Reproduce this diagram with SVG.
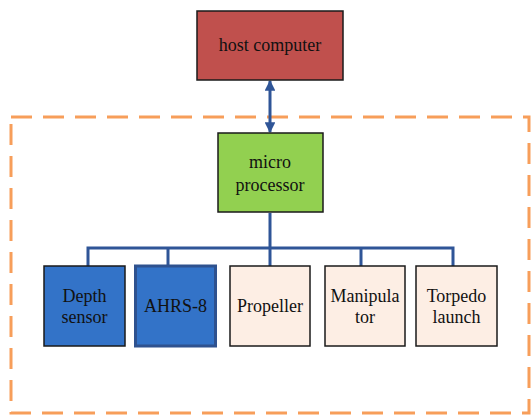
<svg xmlns="http://www.w3.org/2000/svg" width="531" height="415" viewBox="0 0 531 415">
<defs>
<style>
text{font-family:'Liberation Serif','Times New Roman',serif;font-size:18px;fill:#111;text-anchor:middle}
.box{stroke:#1a1a1a;stroke-width:1.5}
.peach{fill:#FDEEE4}
.conn{stroke:#2F5597;stroke-width:3;fill:none}
</style>
<marker id="ah" viewBox="0 0 10 10" refX="9" refY="5" markerWidth="3.6" markerHeight="3.6" orient="auto-start-reverse" markerUnits="strokeWidth">
<path d="M0,0 L10,5 L0,10 Z" fill="#2F5597"/>
</marker>
</defs>
<rect x="11" y="117" width="518" height="296" fill="none" stroke="#F79E5A" stroke-width="3" stroke-dasharray="21 11"/>
<g id="connectors">
<line class="conn" x1="270" y1="81" x2="270" y2="132" marker-start="url(#ah)" marker-end="url(#ah)"/>
<line class="conn" x1="270" y1="213" x2="270" y2="266"/>
<polyline class="conn" points="88,266 88,248 453,248 453,266"/>
<line class="conn" x1="168" y1="248" x2="168" y2="266"/>
<line class="conn" x1="361" y1="248" x2="361" y2="266"/>
</g>
<g id="host">
<rect class="box" x="197" y="11" width="146" height="69" fill="#C0504D"/>
<text x="270" y="51">host computer</text>
</g>
<g id="micro">
<rect class="box" x="218" y="133" width="105" height="79" fill="#92D050"/>
<text x="270" y="168">micro</text>
<text x="270" y="191">processor</text>
</g>
<g id="depth">
<rect class="box" x="44" y="266" width="81" height="80" fill="#3373C8"/>
<text x="84.5" y="302">Depth</text>
<text x="84.5" y="323">sensor</text>
</g>
<g id="ahrs">
<rect x="135.5" y="266" width="80" height="80" fill="#3373C8" stroke="#2F528F" stroke-width="3"/>
<text x="175.5" y="312">AHRS-8</text>
</g>
<g id="propeller">
<rect class="box peach" x="230" y="266" width="80" height="80"/>
<text x="270" y="312">Propeller</text>
</g>
<g id="manipulator">
<rect class="box peach" x="325" y="266" width="80" height="80"/>
<text x="365" y="302">Manipula</text>
<text x="365" y="323">tor</text>
</g>
<g id="torpedo">
<rect class="box peach" x="416" y="266" width="81" height="80"/>
<text x="456.5" y="302">Torpedo</text>
<text x="456.5" y="323">launch</text>
</g>
</svg>
